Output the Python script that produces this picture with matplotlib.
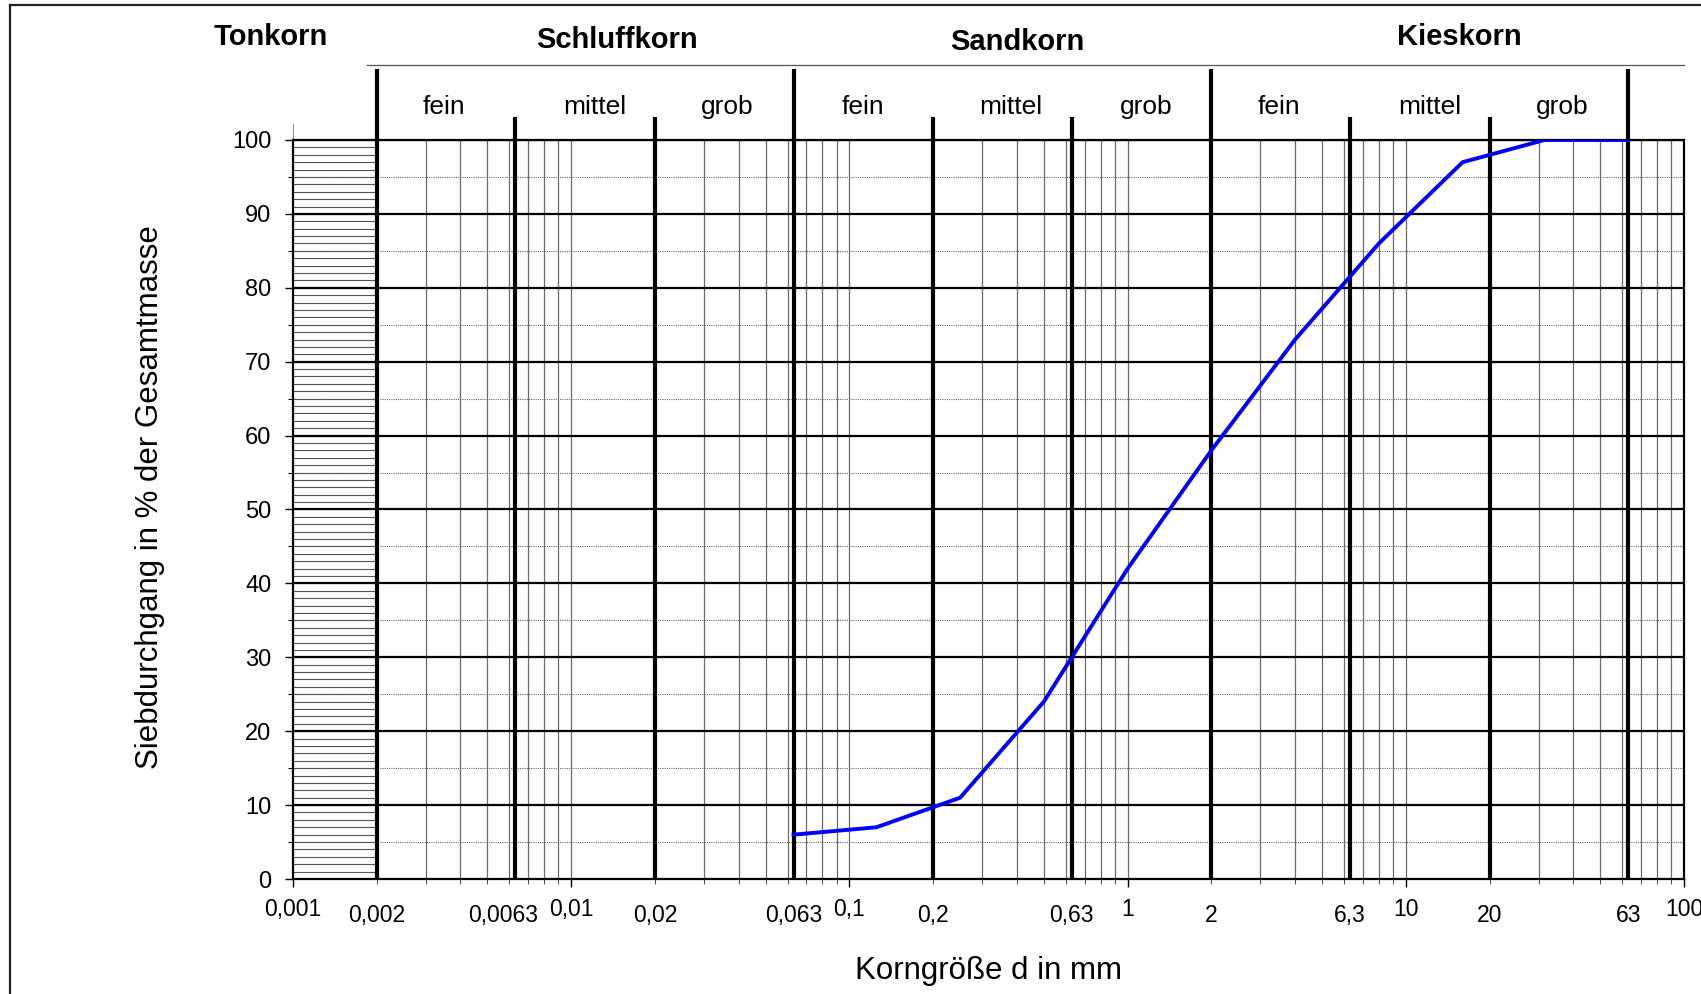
import numpy as np
import matplotlib
matplotlib.use('Agg')
from matplotlib import pyplot as plt
from matplotlib.lines import Line2D
from matplotlib.ticker import NullFormatter, LogLocator

plt.rcParams['font.family'] = ['Liberation Sans', 'DejaVu Sans']

# Sieblinie
sieve_mm = [0.063, 0.125, 0.25, 0.5, 1, 2, 4, 8, 16, 31.5, 63]
passing = [6, 7, 11, 24, 42, 58, 73, 86, 97, 100, 100]

# Kornfraktionen
bounds = [0.002, 0.0063, 0.02, 0.063, 0.2, 0.63, 2, 6.3, 20, 63]
main_bounds = [0.002, 0.063, 2, 63]
groups = ['Tonkorn', 'Schluffkorn', 'Sandkorn', 'Kieskorn']
subs = ['fein', 'mittel', 'grob'] * 3

decade_vals = [0.001, 0.01, 0.1, 1, 10, 100]
decade_labels = ['0,001', '0,01', '0,1', '1', '10', '100']
bound_labels = ['0,002', '0,0063', '0,02', '0,063', '0,2', '0,63', '2', '6,3', '20', '63']

# Layout (Textpositionen)
group_x = [0.00083, 0.0146, 0.40, 15.6]
group_y = [1.140, 1.135, 1.133, 1.140]
sub_x = [0.0035, 0.0122, 0.0364, 0.112, 0.379, 1.17, 3.49, 12.2, 36.4]
bound_label_x = [0.002, 0.0057, 0.02, 0.063, 0.2, 0.63, 2, 6.3, 20, 63]

fig = plt.figure(figsize=(17.01, 9.94), dpi=100)
ax = fig.add_axes([293 / 1701, 1 - 879 / 994, (1684 - 293) / 1701, (879 - 140) / 994])
ax.set_xscale('log')
ax.set_xlim(0.001, 100)
ax.set_ylim(0, 100)

# Rahmen um die Abbildung
fig.add_artist(Line2D([10 / 1701, 1.0], [1 - 5 / 994, 1 - 5 / 994], color='#222', lw=1.6))
fig.add_artist(Line2D([10 / 1701, 10 / 1701], [0, 1 - 5 / 994], color='#222', lw=1.6))

# Raster
vx = np.array([m * 10.0 ** e for e in range(-3, 2) for m in range(1, 10)])
vx = vx[(vx > 0.002) & (vx < 100)]
ax.vlines(vx, 0, 100, color='#6a6a6a', lw=0.9, zorder=1)
ax.hlines(np.arange(5, 100, 10), 0.001, 100, color='#666', lw=0.8, linestyles=(0, (1, 1)), zorder=1)
ax.hlines(np.arange(1, 100), 0.001, 0.002, color='#555', lw=0.8, zorder=1)
ax.hlines(np.arange(10, 101, 10), 0.001, 100, color='black', lw=1.6, zorder=2)

xt = ax.get_xaxis_transform()
for b in bounds:
    top = 1.096 if b in main_bounds else 1.031
    ax.plot([b, b], [0, top], color='black', lw=3, transform=xt, clip_on=False, zorder=3,
            solid_capstyle='butt')
ax.plot([0.00185, 100], [1.1015, 1.1015], color='#555', lw=0.9, transform=xt, clip_on=False)
ax.plot([0.001, 0.001], [1.0, 1.022], color='#999', lw=0.8, transform=xt, clip_on=False)

ax.plot(sieve_mm, passing, color='#0000ff', lw=2.8, zorder=4)

for spine in ax.spines.values():
    spine.set_linewidth(1.6)

ax.set_yticks(range(0, 101, 10))
ax.set_yticks(range(5, 100, 10), minor=True)
ax.tick_params(axis='y', which='major', length=5.5, width=1, labelsize=17, pad=10)
ax.tick_params(axis='y', which='minor', length=3.5, width=0.8)
ax.xaxis.set_major_locator(LogLocator(base=10))
ax.xaxis.set_minor_locator(LogLocator(base=10, subs=np.arange(2, 10)))
ax.xaxis.set_major_formatter(NullFormatter())
ax.xaxis.set_minor_formatter(NullFormatter())
ax.tick_params(axis='x', which='major', length=5.5, width=1)
ax.tick_params(axis='x', which='minor', length=3.5, width=0.8, color='#555')

for v, s in zip(decade_vals, decade_labels):
    ax.text(v, -0.041, s, transform=xt, ha='center', va='center', fontsize=16.5, clip_on=False)
for v, s in zip(bound_label_x, bound_labels):
    ax.text(v, -0.049, s, transform=xt, ha='center', va='center', fontsize=16.5, clip_on=False)

for x, y, s in zip(group_x, group_y, groups):
    ax.text(x, y, s, transform=xt, ha='center', va='center', fontsize=21, fontweight='bold')
for x, s in zip(sub_x, subs):
    ax.text(x, 1.044, s, transform=xt, ha='center', va='center', fontsize=19)

ax.set_xlabel('Korngröße d in mm', fontsize=22.5, va='center')
ax.xaxis.set_label_coords(0.5, -0.1245)
ax.set_ylabel('Siebdurchgang in % der Gesamtmasse', fontsize=22.5, va='center')
ax.yaxis.set_label_coords(-0.103, 0.517)

fig.savefig('out.png', dpi=100)
